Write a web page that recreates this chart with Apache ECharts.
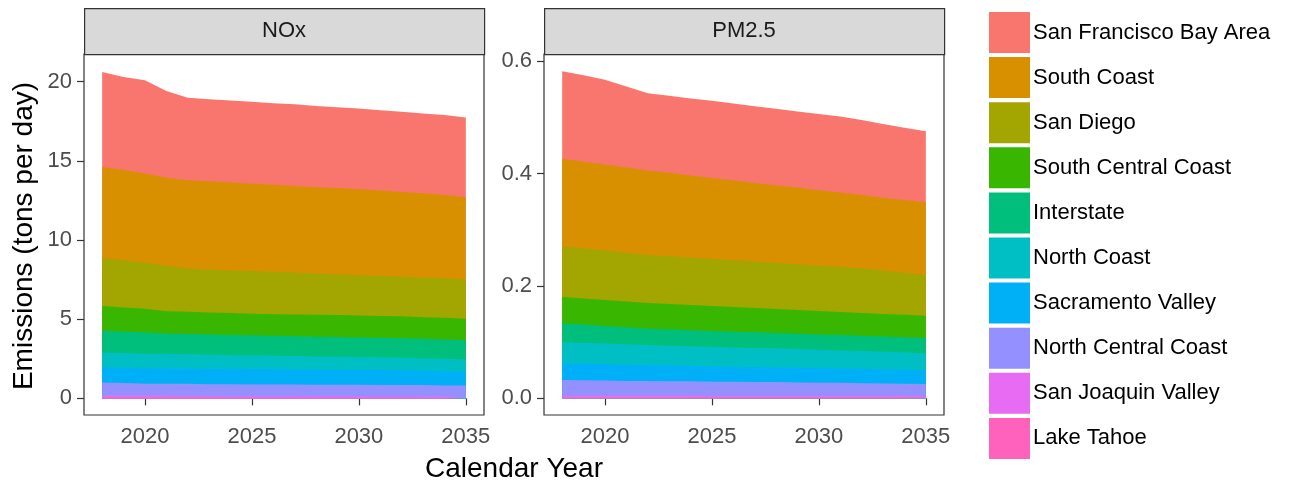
<!DOCTYPE html>
<html>
<head>
<meta charset="utf-8">
<script src="https://cdn.jsdelivr.net/npm/echarts@6/dist/echarts.min.js"></script>
<style>
html,body{margin:0;padding:0;background:#fff;}
#chart{width:1290px;height:483px;}
</style>
</head>
<body>
<div id="chart"></div>
<script>
const years = [2018,2019,2020,2021,2022,2023,2024,2025,2026,2027,2028,2029,2030,2031,2032,2033,2034,2035];
const regions = ["San Francisco Bay Area","South Coast","San Diego","South Central Coast","Interstate","North Coast","Sacramento Valley","North Central Coast","San Joaquin Valley","Lake Tahoe"];
const colors = ["#F8766D","#D89000","#A3A500","#39B600","#00BF7D","#00BFC4","#00B0F6","#9590FF","#E76BF3","#FF62BC"];
const panels = ["NOx","PM2.5"];
const xTicks = [2020,2025,2030,2035];
const noxTicks = [0,5,10,15,20];
const pmTicks = [0,0.2,0.4,0.6];

// NOx (tons per day)
const noxSFBay       = [6.00,5.87,5.89,5.49,5.20,5.18,5.18,5.18,5.15,5.16,5.13,5.11,5.10,5.07,5.06,5.03,5.04,5.03];
const noxSouthCoast  = [5.76,5.70,5.64,5.56,5.57,5.58,5.55,5.51,5.50,5.47,5.45,5.45,5.43,5.39,5.36,5.32,5.27,5.20];
const noxSanDiego    = [3.03,2.99,2.90,2.86,2.74,2.71,2.69,2.70,2.67,2.65,2.61,2.57,2.54,2.53,2.50,2.51,2.49,2.48];
const noxSouthCentral= [1.56,1.53,1.50,1.41,1.41,1.39,1.39,1.36,1.37,1.37,1.39,1.39,1.39,1.38,1.39,1.37,1.37,1.35];
const noxInterstate  = [1.39,1.35,1.34,1.30,1.28,1.29,1.27,1.27,1.26,1.26,1.24,1.24,1.24,1.24,1.22,1.24,1.22,1.22];
const noxNorthCoast  = [0.92,0.93,0.91,0.91,0.89,0.88,0.86,0.86,0.84,0.84,0.82,0.82,0.82,0.80,0.80,0.78,0.78,0.78];
const noxSacramento  = [0.95,0.96,0.99,0.97,0.97,0.97,0.97,0.97,0.97,0.95,0.97,0.95,0.93,0.95,0.93,0.90,0.90,0.86];
const noxNorthCentral= [0.84,0.80,0.76,0.76,0.77,0.75,0.76,0.74,0.74,0.75,0.73,0.73,0.74,0.72,0.72,0.73,0.71,0.72];
const noxSanJoaquin  = [0.12,0.12,0.11,0.11,0.10,0.10,0.10,0.10,0.10,0.09,0.09,0.09,0.08,0.08,0.08,0.08,0.08,0.07];
const noxLakeTahoe   = [0.05,0.05,0.05,0.05,0.05,0.05,0.04,0.04,0.04,0.04,0.04,0.04,0.04,0.04,0.04,0.03,0.03,0.03];

// PM2.5 (tons per day)
const pmSFBay        = [0.1555,0.1537,0.1508,0.1442,0.1376,0.1371,0.1370,0.1371,0.1364,0.1365,0.1358,0.1353,0.1358,0.1353,0.1336,0.1311,0.1288,0.1264];
const pmSouthCoast   = [0.1560,0.1543,0.1531,0.1519,0.1502,0.1483,0.1460,0.1442,0.1425,0.1400,0.1383,0.1365,0.1342,0.1323,0.1305,0.1294,0.1293,0.1294];
const pmSanDiego     = [0.0897,0.0890,0.0878,0.0867,0.0854,0.0849,0.0843,0.0837,0.0831,0.0825,0.0819,0.0813,0.0807,0.0802,0.0795,0.0777,0.0748,0.0724];
const pmSouthCentral = [0.0468,0.0463,0.0463,0.0456,0.0457,0.0451,0.0451,0.0445,0.0439,0.0434,0.0427,0.0421,0.0415,0.0409,0.0404,0.0398,0.0398,0.0397];
const pmInterstate   = [0.0339,0.0326,0.0314,0.0303,0.0291,0.0291,0.0285,0.0279,0.0279,0.0278,0.0273,0.0273,0.0273,0.0273,0.0273,0.0273,0.0273,0.0273];
const pmNorthCoast   = [0.0373,0.0368,0.0368,0.0362,0.0356,0.0350,0.0344,0.0350,0.0344,0.0339,0.0339,0.0333,0.0327,0.0320,0.0314,0.0308,0.0302,0.0297];
const pmSacramento   = [0.0297,0.0297,0.0291,0.0291,0.0285,0.0285,0.0279,0.0273,0.0267,0.0267,0.0261,0.0261,0.0261,0.0256,0.0256,0.0255,0.0255,0.0249];
const pmNorthCentral = [0.0281,0.0275,0.0269,0.0263,0.0263,0.0258,0.0258,0.0252,0.0252,0.0246,0.0246,0.0240,0.0235,0.0235,0.0229,0.0224,0.0218,0.0213];
const pmSanJoaquin   = [0.0030,0.0030,0.0030,0.0029,0.0029,0.0029,0.0029,0.0028,0.0028,0.0028,0.0028,0.0027,0.0027,0.0027,0.0027,0.0026,0.0026,0.0026];
const pmLakeTahoe    = [0.0016,0.0016,0.0016,0.0016,0.0015,0.0015,0.0015,0.0015,0.0015,0.0015,0.0015,0.0015,0.0014,0.0014,0.0014,0.0014,0.0014,0.0014];

const noxData = [noxSFBay,noxSouthCoast,noxSanDiego,noxSouthCentral,noxInterstate,noxNorthCoast,noxSacramento,noxNorthCentral,noxSanJoaquin,noxLakeTahoe];
const pmData  = [pmSFBay,pmSouthCoast,pmSanDiego,pmSouthCentral,pmInterstate,pmNorthCoast,pmSacramento,pmNorthCentral,pmSanJoaquin,pmLakeTahoe];

const FONT = '"Liberation Sans", Arial, sans-serif';
const chart = echarts.init(document.getElementById('chart'), null, {renderer:'canvas'});

const gridDefs = [
  {left:84, top:54, width:400, height:361},
  {left:544, top:54, width:400, height:361}
];
const yRanges = [{min:-1.05, max:21.75}, {min:-0.0297, max:0.6125}];
const yTickSets = [noxTicks, pmTicks];

function xAxis(i){
  return {
    type:'value', gridIndex:i, min:2017.15, max:2035.85,
    axisLine:{show:false},
    splitLine:{show:false},
    axisTick:{show:true, customValues:xTicks, length:7, lineStyle:{color:'#333', width:1.2}},
    axisLabel:{show:true, customValues:xTicks, margin:11, color:'#4d4d4d', fontSize:22, fontFamily:FONT, formatter:v=>String(v)}
  };
}
function yAxis(i){
  return {
    type:'value', gridIndex:i, min:yRanges[i].min, max:yRanges[i].max,
    axisLine:{show:false},
    splitLine:{show:false},
    axisTick:{show:true, customValues:yTickSets[i], length:7, lineStyle:{color:'#333', width:1.2}},
    axisLabel:{show:true, customValues:yTickSets[i], margin:12, color:'#4d4d4d', fontSize:22, fontFamily:FONT,
      formatter: i===0 ? (v=>String(v)) : (v=>v.toFixed(1))}
  };
}

// Stacked areas: each layer's top = sum of itself and all layers below it.
// Layers are drawn from the top one (largest cumulative) to the bottom one, each filling down to 0.
const series = [];
[noxData, pmData].forEach((set, gi) => {
  const n = regions.length;
  for (let k = 0; k < n; k++) {
    const cum = years.map((y, j) => {
      let s = 0;
      for (let m = k; m < n; m++) s += set[m][j];
      return [y, s];
    });
    series.push({
      type:'line', name:regions[k], xAxisIndex:gi, yAxisIndex:gi,
      symbol:'none', showSymbol:false, smooth:false,
      color: colors[k],
      lineStyle:{width:0, color:colors[k]},
      areaStyle:{color:colors[k], opacity:1, origin:0},
      emphasis:{disabled:true},
      z: 2,
      data: cum
    });
  }
});

const graphics = [];
gridDefs.forEach((g, i) => {
  graphics.push({
    type:'rect', left:g.left, top:8, z:10,
    shape:{x:0, y:0, width:g.width, height:46},
    style:{fill:'#d9d9d9', stroke:'#333', lineWidth:1.2}
  });
  graphics.push({
    type:'text', x:g.left + g.width/2, y:31, z:11,
    style:{text:panels[i], fill:'#1a1a1a', font:'22px ' + FONT, textAlign:'center', textVerticalAlign:'middle'}
  });
});
graphics.push({
  type:'text', x:514, y:469, z:11,
  style:{text:'Calendar Year', fill:'#000', font:'28px ' + FONT, textAlign:'center', textVerticalAlign:'middle'}
});
graphics.push({
  type:'text', x:24, y:236, rotation:Math.PI/2, z:11,
  style:{text:'Emissions (tons per day)', fill:'#000', font:'28px ' + FONT, textAlign:'center', textVerticalAlign:'middle'}
});

chart.setOption({
  animation:false,
  backgroundColor:'#fff',
  grid: gridDefs.map(g => Object.assign({show:true, borderColor:'#333', borderWidth:1.2, backgroundColor:'transparent', containLabel:false}, g)),
  xAxis:[xAxis(0), xAxis(1)],
  yAxis:[yAxis(0), yAxis(1)],
  legend:{
    orient:'vertical', left:989, top:12, padding:0, itemWidth:41, itemHeight:41, itemGap:4.1,
    icon:'rect', data:regions, selectedMode:false,
    textStyle:{fontSize:22, fontFamily:FONT, color:'#000', padding:[0,0,0,-2]},
    itemStyle:{borderColor:'#ffffff', borderWidth:0}
  },
  series: series,
  graphic: graphics
});
</script>
</body>
</html>
